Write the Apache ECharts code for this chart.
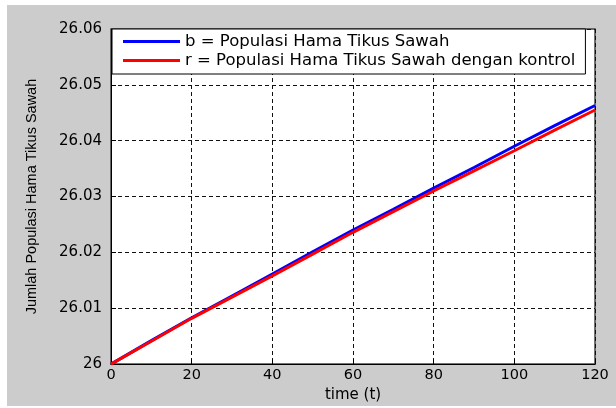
<!DOCTYPE html>
<html>
<head>
<meta charset="utf-8">
<script src="https://cdn.jsdelivr.net/npm/echarts@6/dist/echarts.min.js"></script>
<style>
  html, body { margin: 0; padding: 0; background: #fff; }
  #chart { width: 616px; height: 408px; }
</style>
</head>
<body>
<div id="chart"></div>
<script>
// waktu (t)
const timeData = [0, 10, 20, 30, 40, 50, 60, 70, 80, 90, 100, 110, 120]
// b = Populasi Hama Tikus Sawah
const blueData = [26, 26.0042, 26.0083, 26.0122, 26.0161, 26.0201, 26.0240, 26.0277, 26.0315, 26.0352, 26.0390, 26.0427, 26.0463]
// r = Populasi Hama Tikus Sawah dengan kontrol
const redData = [26, 26.0041, 26.0082, 26.0120, 26.0158, 26.0197, 26.0236, 26.0273, 26.0310, 26.0346, 26.0382, 26.0419, 26.0455]
const seriesNames = ['b = Populasi Hama Tikus Sawah', 'r = Populasi Hama Tikus Sawah dengan kontrol']
const seriesColors = ['#0000ff', '#ff0000']

const myChart = echarts.init(document.getElementById('chart'))
const font = 'Liberation Sans, Arial, sans-serif'
const wideFont = 'DejaVu Sans'

const series = [blueData, redData].map((vals, i) => ({
  name: seriesNames[i],
  type: 'line',
  symbol: 'none',
  smooth: false,
  lineStyle: { width: 3, color: seriesColors[i] },
  itemStyle: { color: seriesColors[i] },
  data: timeData.map((t, k) => [t, vals[k]]),
  z: 3 + i
}))

const option = {
  backgroundColor: '#fff',
  animation: false,
  graphic: [{
    type: 'rect',
    z: -10,
    silent: true,
    shape: { x: 7, y: 5, width: 609, height: 401 },
    style: { fill: '#cccccc' }
  }],
  grid: {
    left: 111,
    right: 21,
    top: 29,
    bottom: 39,
    show: true,
    backgroundColor: '#fff',
    borderColor: '#444',
    borderWidth: 1.5
  },
  legend: {
    orient: 'vertical',
    left: 112,
    top: 29,
    padding: [4, 10, 5, 11],
    itemGap: 2,
    itemWidth: 57,
    itemHeight: 3,
    icon: 'rect',
    selectedMode: false,
    backgroundColor: '#fff',
    borderColor: '#000',
    borderWidth: 1,
    textStyle: { fontFamily: wideFont, fontSize: 16.5, color: '#000' },
    data: seriesNames
  },
  xAxis: {
    type: 'value',
    min: 0,
    max: 120,
    interval: 20,
    name: 'time (t)',
    nameLocation: 'middle',
    nameGap: 23,
    nameTextStyle: { fontFamily: wideFont, fontSize: 15, color: '#000' },
    axisLine: { show: true, lineStyle: { color: '#000', width: 1 } },
    axisTick: { show: true, inside: true, length: 5, lineStyle: { color: '#000' } },
    axisLabel: { fontFamily: wideFont, fontSize: 14.5, color: '#000', margin: 4 },
    splitLine: { show: true, lineStyle: { color: '#111', type: [4, 3], width: 1 } }
  },
  yAxis: {
    type: 'value',
    min: 26,
    max: 26.06,
    interval: 0.01,
    name: 'Jumlah Populasi Hama Tikus Sawah',
    nameLocation: 'middle',
    nameGap: 72,
    nameTextStyle: { fontFamily: font, fontSize: 14.5, color: '#000' },
    axisLine: { show: true, lineStyle: { color: '#000', width: 1 } },
    axisTick: { show: true, inside: true, length: 5, lineStyle: { color: '#000' } },
    axisLabel: {
      fontFamily: wideFont,
      fontSize: 15,
      color: '#000',
      margin: 9,
      formatter: v => String(parseFloat(v.toFixed(2)))
    },
    splitLine: { show: true, lineStyle: { color: '#111', type: [4, 3], width: 1 } }
  },
  series: series
}

myChart.setOption(option)
</script>
</body>
</html>
